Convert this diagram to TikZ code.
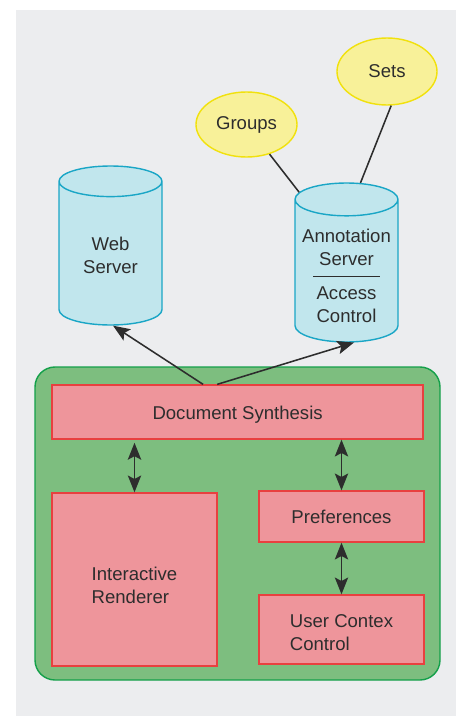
\documentclass[tikz,border=0pt]{standalone}
\usepackage{fontspec}
\setmainfont{Liberation Sans}
\usetikzlibrary{shapes.geometric,arrows.meta}
\definecolor{bggray}{HTML}{ECEDEF}
\definecolor{ink}{HTML}{2D2D2D}
\definecolor{panelfill}{HTML}{7DBE7F}
\definecolor{paneldraw}{HTML}{14A04A}
\definecolor{boxfill}{HTML}{EE959B}
\definecolor{boxdraw}{HTML}{E8403F}
\definecolor{dbfill}{HTML}{C1E6ED}
\definecolor{dbdraw}{HTML}{1AA6C6}
\definecolor{tagfill}{HTML}{F8F199}
\definecolor{tagdraw}{HTML}{F1E10D}
\tikzset{
  every node/.style={font=\fontsize{13.2}{16}\selectfont, text=ink},
  box/.style={draw=boxdraw, fill=boxfill, line width=0.9pt, inner sep=0pt},
  db/.style={cylinder, shape border rotate=90, aspect=0.56, draw=dbdraw, fill=dbfill,
    line width=1pt, minimum width=2.575cm, minimum height=3.975cm, inner sep=0pt, align=center},
  tag/.style={ellipse, draw=tagdraw, fill=tagfill, line width=1pt, inner sep=0pt},
  link/.style={draw=ink, line width=1.1pt},
  arr/.style={link, -{Stealth[length=12pt,width=9.5pt,inset=2.5pt]}},
  dbl/.style={link, {Stealth[length=12pt,width=9.5pt,inset=2.5pt]}-{Stealth[length=12pt,width=9.5pt,inset=2.5pt]}}
}
\begin{document}
\begin{tikzpicture}
\useasboundingbox (0,0) rectangle (11.55,-17.9);
\fill [bggray] (0.4,-0.25) rectangle (11.4,-17.9);
% client side
\draw [fill=panelfill, draw=paneldraw, line width=1pt, rounded corners=0.5cm] (0.875,-9.175) rectangle (11.0,-17.0);
\node [box, minimum width=9.275cm, minimum height=1.35cm] (ds) at (5.94,-10.3) {\rule{0pt}{13.8pt}Document Synthesis};
\node [box, minimum width=4.125cm, minimum height=4.325cm, align=left] (ir) at (3.3625,-14.4875) {\rule{0pt}{18pt}Interactive\\Renderer};
\node [box, minimum width=4.125cm, minimum height=1.275cm] (pref) at (8.5375,-12.9125) {Preferences};
\node [box, minimum width=4.125cm, minimum height=1.725cm, align=left] (ucc) at (8.5375,-15.7375) {\rule{0pt}{13.8pt}User Contex\\Control};
% servers
\node [db, anchor=shape center] (ws) at (2.7625,-6.1375) {\rule{0pt}{12.3pt}Web\\Server};
\node [db, anchor=shape center, aspect=0.37, inner ysep=-0.45cm] (as) at (8.6625,-6.5625) {\rule{0pt}{16.6pt}Annotation\\Server\\[-7.5pt]\rule{1.675cm}{0.7pt}\\Access\\Control};
\node [tag, minimum width=2.525cm, minimum height=1.625cm] (gr) at (6.1625,-3.1125) {Groups};
\node [tag, minimum width=2.5cm, minimum height=1.675cm] (sets) at (9.675,-1.7875) {Sets};
% connectors
\draw [link] (gr) -- (as.121);
\draw [link] (sets.277) -- (as.81);
\draw [arr] ([xshift=-0.8625cm]ds.north) -- (ws.272);
\draw [arr] ([xshift=-0.51cm]ds.north) -- (as.276);
\draw [dbl] ([yshift=-0.08cm]ds.south -| ir.north) -- (ir.north);
\draw [dbl] (ds.south -| pref.north) -- (pref.north);
\draw [dbl] (pref.south) -- (ucc.north);
\end{tikzpicture}
\end{document}
